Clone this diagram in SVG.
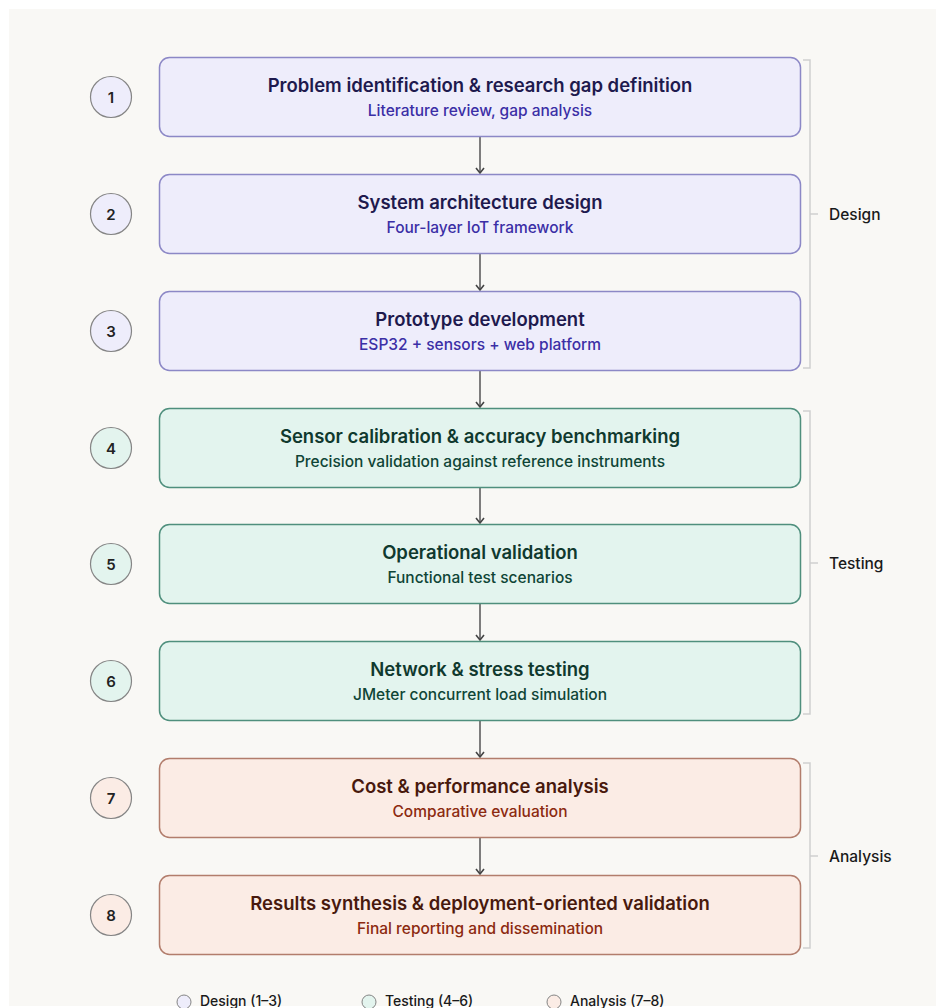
<svg xmlns="http://www.w3.org/2000/svg" width="936" height="1008" viewBox="0 0 936 1008">
<defs>
<style>
.t{font-family:Inter,"Liberation Sans",sans-serif;font-weight:600;font-size:18.5px;text-anchor:middle}
.s{font-family:Inter,"Liberation Sans",sans-serif;font-weight:500;font-size:15.5px;text-anchor:middle}
.n{font-family:Inter,"Liberation Sans",sans-serif;font-weight:600;font-size:15px;text-anchor:middle;fill:#222}
.lab{font-family:Inter,"Liberation Sans",sans-serif;font-weight:500;font-size:15.5px;fill:#1a1a1a}
.leg{font-family:Inter,"Liberation Sans",sans-serif;font-weight:500;font-size:14px;fill:#1a1a1a}
.d rect,.d circle{fill:#eeedfb;stroke:#8c88c6}
.g rect,.g circle{fill:#e3f4ee;stroke:#4f8f7d}
.a rect,.a circle{fill:#fbece5;stroke:#b27d6c}
.d circle,.g circle,.a circle{stroke:#858585}
.d .t{fill:#1e1a4e}.d .s{fill:#3b2fa6}
.g .t{fill:#10392e}.g .s{fill:#0f4536}
.a .t{fill:#48190d}.a .s{fill:#8c2a10}
.br{fill:none;stroke:#cfcfcf;stroke-width:1.5}
.ar{stroke:#555;stroke-width:1.5;fill:none}
</style>
<marker id="ah" markerWidth="10" markerHeight="10" refX="8" refY="5" orient="auto" markerUnits="userSpaceOnUse" viewBox="0 0 10 10">
<path d="M3,1 L8,5 L3,9" fill="none" stroke="#444" stroke-width="1.6"/>
</marker>
</defs>
<rect x="0" y="0" width="936" height="1008" fill="#ffffff"/>
<rect x="9" y="9" width="927" height="997" fill="#f9f8f5"/>

<g id="connectors">
<line class="ar" x1="480" y1="137" x2="480" y2="173" marker-end="url(#ah)"/>
<line class="ar" x1="480" y1="254" x2="480" y2="290" marker-end="url(#ah)"/>
<line class="ar" x1="480" y1="371" x2="480" y2="407" marker-end="url(#ah)"/>
<line class="ar" x1="480" y1="488" x2="480" y2="523" marker-end="url(#ah)"/>
<line class="ar" x1="480" y1="604" x2="480" y2="640" marker-end="url(#ah)"/>
<line class="ar" x1="480" y1="721" x2="480" y2="757" marker-end="url(#ah)"/>
<line class="ar" x1="480" y1="838" x2="480" y2="874" marker-end="url(#ah)"/>
</g>

<g id="brackets">
<path class="br" d="M803,60 H810 V368 H803 M810,214 H818"/>
<text class="lab" x="829" y="219.5">Design</text>
<path class="br" d="M803,411 H810 V714 H803 M810,563 H818"/>
<text class="lab" x="829" y="568.5">Testing</text>
<path class="br" d="M803,763 H810 V948 H803 M810,856 H818"/>
<text class="lab" x="829" y="862">Analysis</text>
</g>

<g id="step1" class="d">
<circle cx="111" cy="97" r="20.5" stroke-width="1.2"/>
<text class="n" x="111" y="102.5">1</text>
<rect x="159.5" y="57.5" width="641" height="79" rx="10" stroke-width="1.5"/>
<text class="t" x="480" y="92">Problem identification &amp; research gap definition</text>
<text class="s" x="480" y="115.5">Literature review, gap analysis</text>
</g>
<g id="step2" class="d">
<circle cx="111" cy="214" r="20.5" stroke-width="1.2"/>
<text class="n" x="111" y="219.5">2</text>
<rect x="159.5" y="174.5" width="641" height="79" rx="10" stroke-width="1.5"/>
<text class="t" x="480" y="209">System architecture design</text>
<text class="s" x="480" y="232.5">Four-layer IoT framework</text>
</g>
<g id="step3" class="d">
<circle cx="111" cy="331" r="20.5" stroke-width="1.2"/>
<text class="n" x="111" y="336.5">3</text>
<rect x="159.5" y="291.5" width="641" height="79" rx="10" stroke-width="1.5"/>
<text class="t" x="480" y="326">Prototype development</text>
<text class="s" x="480" y="349.5">ESP32 + sensors + web platform</text>
</g>
<g id="step4" class="g">
<circle cx="111" cy="448" r="20.5" stroke-width="1.2"/>
<text class="n" x="111" y="453.5">4</text>
<rect x="159.5" y="408.5" width="641" height="79" rx="10" stroke-width="1.5"/>
<text class="t" x="480" y="443">Sensor calibration &amp; accuracy benchmarking</text>
<text class="s" x="480" y="466.5">Precision validation against reference instruments</text>
</g>
<g id="step5" class="g">
<circle cx="111" cy="564" r="20.5" stroke-width="1.2"/>
<text class="n" x="111" y="569.5">5</text>
<rect x="159.5" y="524.5" width="641" height="79" rx="10" stroke-width="1.5"/>
<text class="t" x="480" y="559">Operational validation</text>
<text class="s" x="480" y="582.5">Functional test scenarios</text>
</g>
<g id="step6" class="g">
<circle cx="111" cy="681" r="20.5" stroke-width="1.2"/>
<text class="n" x="111" y="686.5">6</text>
<rect x="159.5" y="641.5" width="641" height="79" rx="10" stroke-width="1.5"/>
<text class="t" x="480" y="676">Network &amp; stress testing</text>
<text class="s" x="480" y="699.5">JMeter concurrent load simulation</text>
</g>
<g id="step7" class="a">
<circle cx="111" cy="798" r="20.5" stroke-width="1.2"/>
<text class="n" x="111" y="803.5">7</text>
<rect x="159.5" y="758.5" width="641" height="79" rx="10" stroke-width="1.5"/>
<text class="t" x="480" y="793">Cost &amp; performance analysis</text>
<text class="s" x="480" y="816.5">Comparative evaluation</text>
</g>
<g id="step8" class="a">
<circle cx="111" cy="915" r="20.5" stroke-width="1.2"/>
<text class="n" x="111" y="920.5">8</text>
<rect x="159.5" y="875.5" width="641" height="79" rx="10" stroke-width="1.5"/>
<text class="t" x="480" y="910">Results synthesis &amp; deployment-oriented validation</text>
<text class="s" x="480" y="933.5">Final reporting and dissemination</text>
</g>

<g id="legend">
<g class="d"><circle cx="184" cy="1002" r="7" stroke-width="1"/></g>
<text class="leg" x="200" y="1006">Design (1–3)</text>
<g class="g"><circle cx="369" cy="1002" r="7" stroke-width="1"/></g>
<text class="leg" x="385" y="1006">Testing (4–6)</text>
<g class="a"><circle cx="554" cy="1002" r="7" stroke-width="1"/></g>
<text class="leg" x="570" y="1006">Analysis (7–8)</text>
</g>
</svg>
